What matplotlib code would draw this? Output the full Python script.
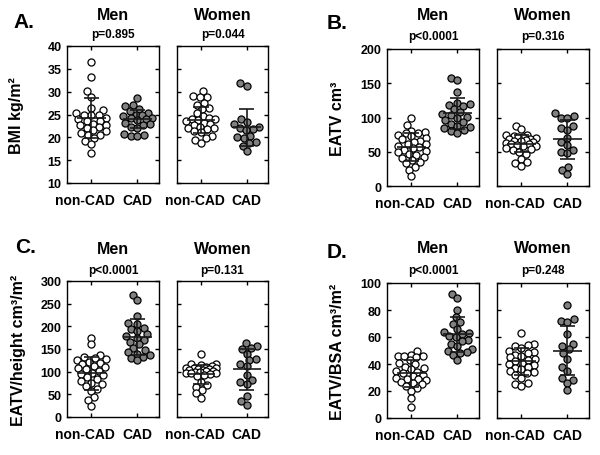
import numpy as np
import matplotlib
matplotlib.use("Agg")
import matplotlib.pyplot as plt
import matplotlib.transforms as mtransforms

plt.rcParams['font.family'] = ['Liberation Sans', 'DejaVu Sans']
plt.rcParams['font.weight'] = 'bold'

groups = ['non-CAD', 'CAD']
sexes = ['Men', 'Women']

# ---- A. BMI ----
bmi_men_noncad = [36.5, 33.2, 30.1, 28.9, 26.4, 26.0, 25.4, 24.9, 24.8, 24.8, 24.3, 24.0, 23.6, 23.5,
                  22.9, 22.7, 22.6, 22.3, 22.1, 21.5, 21.3, 21.0, 20.6, 20.5, 19.9, 19.2, 18.5, 16.5]
bmi_men_cad = [28.7, 27.1, 26.8, 26.3, 25.8, 25.4, 25.0, 24.8, 24.6, 24.3, 24.2, 24.0, 23.8, 23.2,
               22.9, 22.7, 22.3, 22.0, 20.8, 20.5, 20.3, 20.2]
bmi_women_noncad = [30.1, 29.0, 28.9, 28.8, 27.6, 27.1, 26.4, 26.1, 25.3, 24.6, 24.2, 24.1, 24.0, 23.8,
                    23.5, 23.2, 22.9, 22.6, 22.3, 22.1, 22.0, 21.9, 21.4, 21.1, 20.3, 19.9, 19.5, 18.8]
bmi_women_cad = [31.8, 31.3, 24.0, 23.3, 23.0, 22.3, 22.1, 21.9, 21.6, 20.4, 20.1, 19.8, 19.0, 18.8, 18.2, 17.0]
bmi_mean = [24.2, 24.0, 23.8, 22.2]
bmi_sd = [4.4, 2.0, 2.8, 4.1]
bmi_p = ['p=0.895', 'p=0.044']

# ---- B. EATV ----
eatv_men_noncad = [99, 89, 81, 79, 78, 77, 75, 73, 70, 68, 66, 64, 62, 61, 59, 57, 55, 53, 51, 49,
                   47, 45, 43, 41, 38, 35, 33, 28, 24, 15]
eatv_men_cad = [157, 155, 137, 121, 119, 118, 117, 112, 108, 105, 103, 101, 99, 96, 93, 90, 88, 86, 84, 82, 80, 78]
eatv_women_noncad = [88, 83, 75, 74, 73, 72, 71, 70, 69, 68, 67, 66, 65, 64, 63, 62, 61, 60, 59, 58,
                     56, 54, 52, 50, 47, 40, 35, 33, 29]
eatv_women_cad = [106, 102, 100, 100, 87, 84, 82, 70, 64, 60, 53, 49, 48, 28, 23, 17]
eatv_mean = [57, 106, 62, 68]
eatv_sd = [20, 23, 12, 29]
eatv_p = ['p<0.0001', 'p=0.316']

# ---- C. EATV/height ----
eh_men_noncad = [175, 160, 137, 132, 130, 128, 125, 122, 120, 117, 112, 110, 108, 105, 102, 98, 95,
                 92, 88, 84, 80, 76, 72, 68, 62, 58, 45, 38, 25]
eh_men_cad = [270, 258, 222, 208, 206, 196, 195, 190, 183, 178, 175, 170, 165, 160, 152, 147, 143,
              140, 137, 133, 130, 125]
eh_women_noncad = [138, 118, 116, 114, 112, 110, 109, 108, 107, 106, 105, 104, 103, 102, 101, 100, 99,
                   98, 97, 96, 95, 92, 90, 78, 70, 67, 60, 52, 42]
eh_women_cad = [163, 157, 152, 150, 140, 128, 126, 118, 112, 92, 82, 78, 72, 47, 35, 26]
eh_mean = [96, 176, 94, 105]
eh_sd = [36, 40, 21, 45]
eh_p = ['p<0.0001', 'p=0.131']

# ---- D. EATV/BSA ----
eb_men_noncad = [50, 47, 46, 46, 46, 45, 43, 41, 40, 38, 37, 36, 35, 34, 33, 32, 31, 30, 29, 29, 28,
                 27, 26, 25, 24, 22, 20, 15, 8]
eb_men_cad = [92, 89, 80, 75, 71, 70, 66, 64, 63, 62, 61, 60, 58, 57, 55, 53, 51, 50, 49, 48, 47, 43]
eb_women_noncad = [63, 55, 54, 53, 52, 50, 49, 48, 47, 46, 45, 44, 43, 42, 41, 40, 39, 38, 37, 36, 35,
                   34, 33, 32, 30, 26, 25, 24]
eb_women_cad = [84, 73, 72, 71, 62, 55, 53, 51, 48, 44, 38, 35, 30, 28, 26, 21]
eb_mean = [33, 62, 42, 50]
eb_sd = [10, 13, 10, 18]
eb_p = ['p<0.0001', 'p=0.248']

W, H = 600, 456
fig = plt.figure(figsize=(W / 100, H / 100), dpi=100)


def swarm_offsets(vals_px, d, max_w):
    """Beeswarm in pixel units; crowded points overlap inside +-max_w"""
    placed = []
    out = np.zeros(len(vals_px))
    grid = np.linspace(-max_w, max_w, 21)
    for i in np.argsort(vals_px):
        y = vals_px[i]
        near = [(px, py) for px, py in placed if abs(py - y) < d]
        cands = [0.0]
        for px, py in near:
            dx = np.sqrt(d ** 2 - (py - y) ** 2)
            cands += [px - dx, px + dx]
        cands.sort(key=abs)
        best = None
        for c in cands:
            if abs(c) <= max_w and all((c - px) ** 2 + (y - py) ** 2 >= d ** 2 - 1e-6 for px, py in near):
                best = c
                break
        if best is None:
            # no free spot: take the least crowded spot in the allowed band
            score = [min((g - px) ** 2 + (y - py) ** 2 for px, py in near) - 1e-3 * g ** 2 for g in grid]
            best = grid[int(np.argmax(score))]
        placed.append((best, y))
        out[i] = best
    return out


def draw_sub(box, ylim, yticks, data, means, sds, title, ptxt, show_ylabels):
    x0, y0, x1, y1 = box
    ax = fig.add_axes([x0 / W, 1 - y1 / H, (x1 - x0) / W, (y1 - y0) / H])
    xlim = (-0.53, 1.47)
    ax.set_xlim(*xlim)
    ax.set_ylim(*ylim)
    px_x = (x1 - x0) / (xlim[1] - xlim[0])
    px_y = (y1 - y0) / (ylim[1] - ylim[0])
    for i, vals in enumerate(data):
        vals = np.asarray(vals, dtype=float)
        off = swarm_offsets(vals * px_y, 6.8, 15) / px_x
        fc = 'white' if i == 0 else '#808080'
        ax.scatter(i + off, vals, s=26, facecolor=fc, edgecolor='black', linewidth=0.9, zorder=3)
        m, s = means[i], sds[i]
        ax.hlines(m, i - 0.31, i + 0.31, color='#1a1a1a', lw=1.2, zorder=4)
        ax.vlines(i, m - s, m + s, color='#1a1a1a', lw=1.2, zorder=4)
        ax.hlines([m - s, m + s], i - 0.17, i + 0.17, color='#1a1a1a', lw=1.2, zorder=4)
    ax.set_yticks(yticks)
    ax.set_xticks([0, 1])
    ax.set_xticklabels(groups, fontsize=10, fontweight='bold')
    ax.tick_params(direction='in', length=3, width=1, top=True, right=True, pad=7)
    ax.tick_params(axis='y', labelsize=9, pad=4)
    if not show_ylabels:
        ax.set_yticklabels([])
    lab = ax.get_xticklabels()[0]
    lab.set_transform(lab.get_transform() + mtransforms.ScaledTranslation(-6 / 100, 0, fig.dpi_scale_trans))
    for sp in ax.spines.values():
        sp.set_linewidth(1.0)
    cx = (x0 + x1) / 2
    fig.text(cx / W, 1 - title[1] / H, title[0], ha='center', va='center', fontsize=11.5, fontweight='bold')
    fig.text(cx / W, 1 - ptxt[1] / H, ptxt[0], ha='center', va='center', fontsize=8.5, fontweight='bold')
    return ax


panels = [
    # letter, letter pos, ylabel, ylabel x, boxes, ylim, yticks, data, means, sds, p, title y, p y
    ('A.', (13, 23), 'BMI kg/m²', 17, [(67, 47, 159, 184), (177, 47, 268, 184)], (10, 40), np.arange(10, 41, 5),
     [[bmi_men_noncad, bmi_men_cad], [bmi_women_noncad, bmi_women_cad]], bmi_mean, bmi_sd, bmi_p, 16, 35),
    ('B.', (327, 24), 'EATV cm³', 338, [(387, 50, 479, 187), (497, 50, 589, 187)], (0, 200), np.arange(0, 201, 50),
     [[eatv_men_noncad, eatv_men_cad], [eatv_women_noncad, eatv_women_cad]], eatv_mean, eatv_sd, eatv_p, 16, 37),
    ('C.', (15, 248), 'EATV/height cm³/m²', 19, [(67, 282, 159, 418), (177, 282, 268, 418)], (0, 300),
     np.arange(0, 301, 50), [[eh_men_noncad, eh_men_cad], [eh_women_noncad, eh_women_cad]], eh_mean, eh_sd, eh_p,
     250, 271),
    ('D.', (327, 252), 'EATV/BSA cm³/m²', 338, [(387, 284, 479, 419), (497, 284, 589, 419)], (0, 100),
     np.arange(0, 101, 20), [[eb_men_noncad, eb_men_cad], [eb_women_noncad, eb_women_cad]], eb_mean, eb_sd, eb_p,
     249, 271),
]

for letter, lpos, ylab, ylx, boxes, ylim, yticks, data, means, sds, pv, ty, py in panels:
    fig.text(lpos[0] / W, 1 - lpos[1] / H, letter, ha='left', va='center', fontsize=15, fontweight='bold')
    for k in range(2):
        draw_sub(boxes[k], ylim, yticks, data[k], means[2 * k:2 * k + 2], sds[2 * k:2 * k + 2],
                 (sexes[k], ty), (pv[k], py), k == 0)
    yc = (boxes[0][1] + boxes[0][3]) / 2
    fig.text(ylx / W, 1 - yc / H, ylab, rotation=90, ha='center', va='center', fontsize=11.5, fontweight='bold')

fig.savefig('out.png', dpi=100)
